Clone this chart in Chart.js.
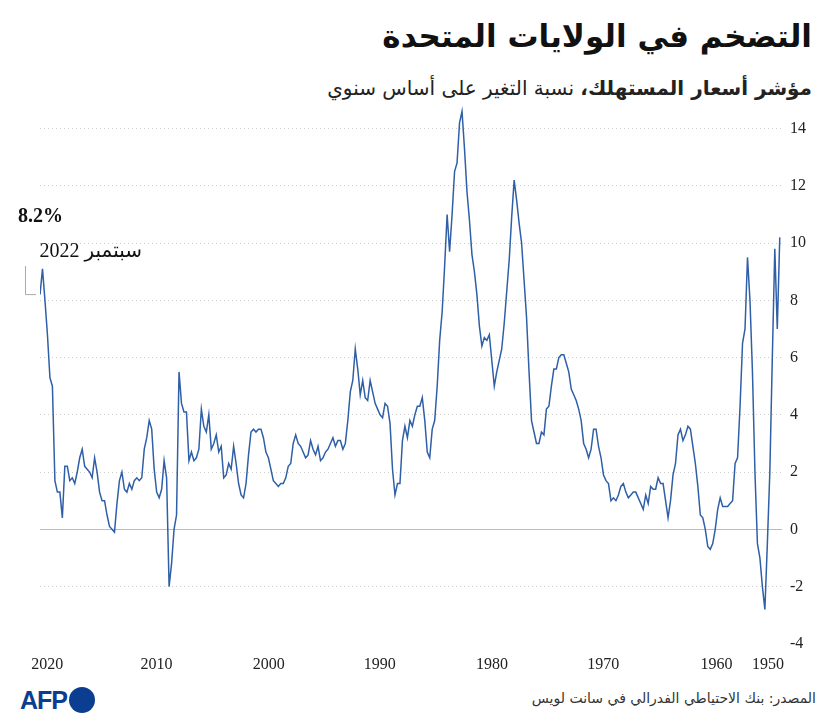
<!DOCTYPE html>
<html>
<head>
<meta charset="utf-8">
<script src="https://cdn.jsdelivr.net/npm/chart.js@4"></script>
<style>
  body { margin: 0; width: 830px; height: 725px; background: #fff; position: relative; overflow: hidden; font-family: "DejaVu Sans", sans-serif; }
  #c { position: absolute; left: 0; top: 0; }
  .t { position: absolute; right: 18px; direction: rtl; white-space: nowrap; }
  #title { top: 18px; font-size: 31px; font-weight: bold; color: #111; }
  #sub { top: 76px; font-size: 20px; color: #222; }
  #src { position: absolute; right: 14px; top: 690px; direction: rtl; font-size: 14px; color: #333; }
  #afp { position: absolute; left: 20px; top: 686px; font: bold 25px "Liberation Sans", sans-serif; color: #0b3e91; letter-spacing: -1px; }
  #afp span { display: inline-block; width: 26px; height: 26px; border-radius: 50%; background: #0b3e91; vertical-align: -4px; margin-left: 2px; }
</style>
</head>
<body>
<div class="t" id="title">التضخم في الولايات المتحدة</div>
<div class="t" id="sub"><b>مؤشر أسعار المستهلك،</b> نسبة التغير على أساس سنوي</div>
<div id="afp">AFP<span></span></div>
<div id="src">المصدر: بنك الاحتياطي الفدرالي في سانت لويس</div>
<canvas id="c" width="830" height="725"></canvas>
<script>
// quarterly year-on-year CPI change, from 1948 Q1 to 2022 Q3
const startYear = 1948;
const cpi = [
  10.2, 7.0, 9.8, 6.0,   2.0, -0.5, -2.8, -2.0,   -1.0, -0.5, 2.0, 5.5,
  8.0, 9.5, 7.0, 6.5,   4.3, 2.5, 2.3, 1.0,   0.9, 0.8, 0.8, 0.8,
  1.1, 0.7, 0.0, -0.5,   -0.7, -0.6, 0.0, 0.4,   0.5, 1.5, 2.3, 2.9,
  3.5, 3.6, 3.3, 3.1,   3.5, 3.3, 2.3, 1.9,   1.0, 0.4, 1.0, 1.6,
  1.6, 1.8, 1.4, 1.4,   1.5, 0.9, 1.2, 0.7,   0.9, 1.1, 1.3, 1.3,
  1.2, 1.1, 1.3, 1.6,   1.5, 1.2, 1.0, 1.1,   1.0, 1.6, 1.7, 1.9,
  2.5, 2.9, 3.5, 3.5,   2.8, 2.5, 2.8, 3.0,   3.8, 4.2, 4.5, 4.7,
  4.9, 5.5, 5.8, 6.1,   6.1, 6.0, 5.6, 5.6,   5.0, 4.3, 4.2, 3.3,
  3.4, 3.0, 3.0, 3.4,   3.8, 5.5, 7.4, 8.7,   10.0, 10.7, 11.5, 12.2,
  10.9, 9.4, 8.3, 7.2,   6.3, 5.9, 5.5, 5.0,   5.9, 6.8, 6.6, 6.7,
  6.4, 7.1, 8.2, 9.0,   9.6, 10.8, 11.8, 13.3,   14.6, 14.2, 12.8, 12.5,
  11.0, 9.7, 11.0, 9.2,   7.6, 6.6, 5.0, 3.8,   3.5, 2.5, 2.7, 3.8,
  4.6, 4.3, 4.3, 4.0,   3.6, 3.8, 3.2, 3.6,   3.1, 1.6, 1.6, 1.2,
  2.1, 3.7, 4.3, 4.4,   3.9, 4.0, 4.2, 4.4,   4.8, 5.2, 4.5, 4.6,
  5.2, 4.7, 5.6, 6.3,   5.2, 4.8, 3.8, 3.0,   2.8, 3.1, 3.1, 2.9,
  3.2, 3.0, 2.8, 2.7,   2.5, 2.4, 2.9, 2.6,   2.8, 3.1, 2.6, 2.5,
  2.7, 2.9, 3.0, 3.3,   3.0, 2.3, 2.2, 1.8,   1.6, 1.6, 1.5, 1.6,
  1.7, 2.1, 2.5, 2.7,   3.2, 3.5, 3.5, 3.4,   3.5, 3.4, 2.6, 1.6,
  1.1, 1.2, 1.6, 2.3,   2.9, 2.1, 2.3, 1.9,   1.8, 2.9, 2.7, 3.3,
  3.0, 2.8, 4.0, 3.4,   3.6, 4.2, 2.8, 2.5,   2.4, 2.7, 2.4, 4.1,
  4.1, 4.4, 5.5, 0.5,   0.0, -1.2, -2.0, 1.8,   2.4, 1.4, 1.1, 1.3,
  2.1, 3.5, 3.8, 3.2,   2.8, 1.8, 1.7, 1.8,   1.7, 1.4, 1.6, 1.3,
  1.4, 2.0, 1.7, 0.9,   -0.1, 0.0, 0.1, 0.5,   1.0, 1.0, 1.3, 2.0,
  2.5, 1.8, 2.0, 2.1,   2.2, 2.8, 2.5, 2.0,   1.6, 1.8, 1.7, 2.2,
  2.2, 0.4, 1.3, 1.3,   1.7, 5.0, 5.3, 6.8,   8.0, 9.1, 8.2
];
const decadeLabels = ['2020', '2010', '2000', '1990', '1980', '1970', '1960', '1950'];
const decadeTickYears = [2021.9, 2010.9, 1999.6, 1988.4, 1977.1, 1965.9, 1954.5, 1949.3];
const yTicks = [-4, -2, 0, 2, 4, 6, 8, 10, 12, 14];

const points = cpi.map((v, i) => ({ x: startYear + i / 4 + 0.125, y: v }));
const lastX = points[points.length - 1].x;

const numFont = { family: '"Liberation Serif", serif', size: 16 };

const calloutPlugin = {
  id: 'callout',
  beforeDatasetsDraw(chart) {
    const ctx = chart.ctx, a = chart.chartArea;
    const y0 = Math.round(chart.scales.y.getPixelForValue(0)) + 0.5;
    ctx.save();
    ctx.strokeStyle = '#bbb';
    ctx.lineWidth = 1;
    ctx.beginPath();
    ctx.moveTo(a.left, y0);
    ctx.lineTo(a.right, y0);
    ctx.stroke();
    ctx.restore();
  },
  afterDraw(chart) {
    const ctx = chart.ctx;
    const y = chart.scales.y.getPixelForValue(cpi[cpi.length - 1]);
    ctx.save();
    ctx.fillStyle = '#111';
    ctx.font = 'bold 20px "Liberation Serif", serif';
    ctx.textAlign = 'left';
    ctx.fillText('8.2%', 18, 222);
    ctx.font = '20px "Liberation Serif", "DejaVu Sans", serif';
    ctx.direction = 'rtl';
    ctx.textAlign = 'right';
    ctx.fillText('سبتمبر 2022', 142, 257);
    ctx.strokeStyle = '#aaa';
    ctx.lineWidth = 1;
    ctx.beginPath();
    ctx.moveTo(25.5, 266);
    ctx.lineTo(25.5, y);
    ctx.lineTo(36, y);
    ctx.stroke();
    ctx.restore();
  }
};

new Chart(document.getElementById('c'), {
  type: 'line',
  data: {
    datasets: [{
      data: points,
      borderColor: '#2f5fa7',
      borderWidth: 1.5,
      pointRadius: 0,
      tension: 0
    }]
  },
  options: {
    responsive: false,
    animation: false,
    layout: { padding: { left: 40, top: 100, right: 16, bottom: 48 } },
    plugins: { legend: { display: false }, tooltip: { enabled: false } },
    scales: {
      x: {
        type: 'linear',
        reverse: true,
        min: 1947.9,
        max: lastX,
        afterBuildTicks: (s) => { s.ticks = decadeTickYears.map(v => ({ value: v })); },
        ticks: {
          callback: (v, i) => decadeLabels[i],
          color: '#222', font: numFont, maxRotation: 0, autoSkip: false
        },
        grid: { display: false },
        border: { display: false }
      },
      y: {
        position: 'right',
        min: -4,
        max: 15,
        afterBuildTicks: (s) => { s.ticks = yTicks.map(v => ({ value: v })); },
        ticks: { color: '#222', font: numFont, padding: 8 },
        grid: {
          color: (c) => c.tick && (c.tick.value === -4 || c.tick.value === 0) ? 'rgba(0,0,0,0)' : '#ccc',
          drawTicks: false,
          lineWidth: 1
        },
        border: { display: false, dash: [1, 3] }
      }
    }
  },
  plugins: [calloutPlugin]
});
</script>
</body>
</html>
